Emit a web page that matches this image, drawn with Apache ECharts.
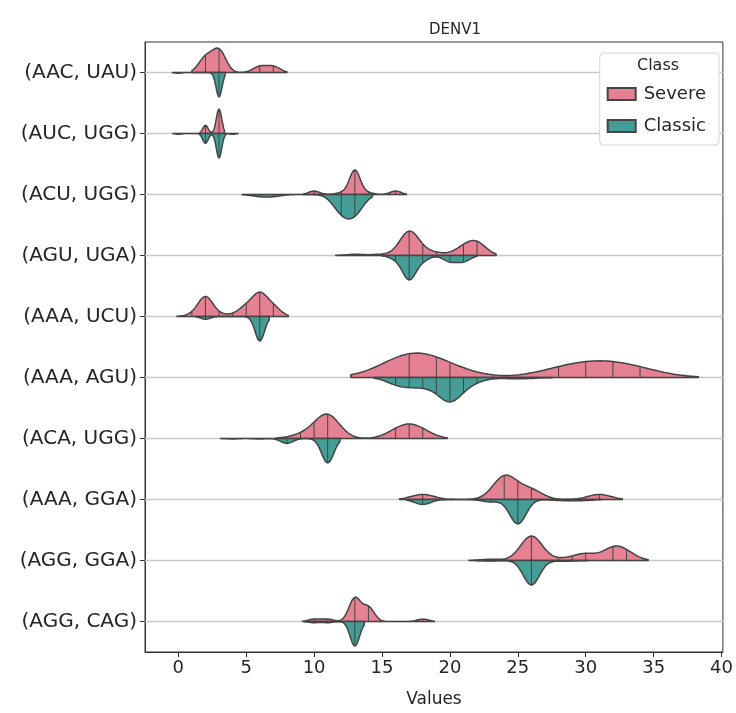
<!DOCTYPE html>
<html><head><meta charset="utf-8">
<script src="https://cdn.jsdelivr.net/npm/echarts@6/dist/echarts.min.js"></script>
<style>html,body{margin:0;padding:0;background:#fff}#c{width:736px;height:713px}</style>
</head><body><div id="c"></div>
<script>
const categories = ['(AAC, UAU)','(AUC, UGG)','(ACU, UGG)','(AGU, UGA)','(AAA, UCU)','(AAA, AGU)','(ACA, UGG)','(AAA, GGA)','(AGG, GGA)','(AGG, CAG)'];
const xTicks = [0,5,10,15,20,25,30,35,40];
const classNames = ['Severe','Classic'];

// observed values (x) and how many observations sit at each, per category
const severeValues = [
  [2,3,6,7],
  [2,3],
  [10,12,13,14,16],
  [13,15,17,18,19,21,22],
  [1,2,3,4,5,6,7],
  [17,19,20,28,30,32,34],
  [9,10,11,16,17,18],
  [18,24,25,26,31],
  [23,26,28,29,30,32,33],
  [10,11,13,14,18]
];
const severeCounts = [
  [10,15,4,4],
  [10,30],
  [2,1,14,1,2],
  [1,1,20,2,2,6,10],
  [1,13,1,1,6,14,6],
  [16,4,3,4,6,6,4],
  [5,5,40,9,16,9],
  [3,13,2,5,3],
  [2,40,2,2,10,18,10],
  [1,1,10,6,1]
];
const severeBandwidth = [0.5,0.2,0.4,0.7,0.55,2.15,0.9,0.85,0.8,0.43];

const classicValues = [
  [0,3],
  [0,2,3,4],
  [6,7,12,13],
  [16,17,18,20,21],
  [2,6],
  [16,17,18,19,20,21,22,24,25,26],
  [4,6,8,11],
  [18,23,25,28,29,30],
  [23,26,28,29],
  [10,11,13]
];
const classicCounts = [
  [1,30],
  [1,12,30,1],
  [1,1,9,10],
  [2,16,3,4,4],
  [1,9],
  [8,8,8,8,30,8,4,1,1,1],
  [1,1,10,50],
  [6,3,30,1,1,1],
  [1,50,1,1],
  [1,1,20]
];
const classicBandwidth = [0.22,0.2,0.65,0.5,0.35,0.8,0.45,0.6,0.6,0.35];

const severeColor = '#e68193';
const classicColor = '#449e97';
const edgeColor = '#444444';

function kde(values, counts, bw) {
  const lo = Math.min(...values) - 2 * bw;
  const hi = Math.max(...values) + 2 * bw;
  const dens = x => {
    let d = 0;
    for (let j = 0; j < values.length; j++) {
      const z = (x - values[j]) / bw;
      d += counts[j] * Math.exp(-0.5 * z * z);
    }
    return d;
  };
  const xs = [], ds = [];
  const n = 100;
  for (let k = 0; k < n; k++) {
    const x = lo + (hi - lo) * k / (n - 1);
    xs.push(x); ds.push(dens(x));
  }
  const mx = Math.max(...ds);
  return { xs, ds: ds.map(d => d / mx), sticks: values.map(v => [v, dens(v) / mx]) };
}

const severeKde = categories.map((_, i) => kde(severeValues[i], severeCounts[i], severeBandwidth[i]));
const classicKde = categories.map((_, i) => kde(classicValues[i], classicCounts[i], classicBandwidth[i]));

function makeRender(kdes, dir, color) {
  return function (params, api) {
    const i = params.dataIndex;
    const k = kdes[i];
    const center = api.coord([0, i])[1];
    const half = api.size([0, 1])[1] * 0.4;
    const pts = [];
    pts.push([api.coord([k.xs[0], i])[0], center]);
    for (let j = 0; j < k.xs.length; j++) {
      pts.push([api.coord([k.xs[j], i])[0], center - dir * k.ds[j] * half]);
    }
    pts.push([api.coord([k.xs[k.xs.length - 1], i])[0], center]);
    const children = [{
      type: 'polygon',
      shape: { points: pts },
      style: { fill: color, stroke: edgeColor, lineWidth: 1.5, lineJoin: 'round' }
    }];
    k.sticks.forEach(s => {
      const px = api.coord([s[0], i])[0];
      children.push({
        type: 'line',
        shape: { x1: px, y1: center, x2: px, y2: center - dir * s[1] * half },
        style: { stroke: edgeColor, lineWidth: 1 }
      });
    });
    return { type: 'group', children };
  };
}

const rowData = categories.map((_, i) => [0, i]);
const chart = echarts.init(document.getElementById('c'), null, { renderer: 'canvas' });
const font = 'DejaVu Sans';
chart.setOption({
  animation: false,
  backgroundColor: '#ffffff',
  textStyle: { fontFamily: font },
  title: {
    text: 'DENV1', left: 450, top: 18, textAlign: 'center',
    textStyle: { fontSize: 15, fontWeight: 'normal', color: '#262626', fontFamily: font }
  },
  grid: { left: 145, right: 12, top: 42, bottom: 60, show: true, borderColor: '#333', borderWidth: 1, backgroundColor: 'transparent' },
  xAxis: {
    type: 'value', min: -2.45, max: 40.1,
    name: 'Values', nameLocation: 'middle', nameGap: 39,
    nameTextStyle: { fontSize: 17, color: '#262626', fontFamily: font },
    axisLine: { show: true, onZero: false, lineStyle: { color: '#333' } },
    axisTick: { show: true, customValues: xTicks, length: 5, lineStyle: { color: '#333' } },
    axisLabel: { customValues: xTicks, fontSize: 18, color: '#262626', margin: 7, fontFamily: font },
    splitLine: { show: false }
  },
  yAxis: {
    type: 'category', data: categories, inverse: true,
    axisLine: { show: true, onZero: false, lineStyle: { color: '#333' } },
    axisTick: { show: true, alignWithLabel: true, length: 5, lineStyle: { color: '#333' } },
    axisLabel: { fontSize: 20, color: '#262626', margin: 8, fontFamily: font },
    splitLine: { show: false }
  },
  legend: {
    data: classNames, orient: 'vertical', right: 17, top: 53,
    padding: [32, 13, 10, 7], itemWidth: 28, itemHeight: 12, itemGap: 14, icon: 'rect',
    backgroundColor: '#ffffff', borderColor: '#d5d5d5', borderWidth: 1, borderRadius: 4,
    selectedMode: false,
    textStyle: { fontSize: 18, color: '#262626', fontFamily: font, padding: [0, 0, 0, 3] }
  },
  graphic: [{
    type: 'text', x: 658, y: 66, z: 100,
    style: { text: 'Class', fontSize: 16, fill: '#262626', fontFamily: font, textAlign: 'center', textVerticalAlign: 'middle' }
  }],
  series: [
    {
      name: 'rows', type: 'custom', data: rowData, encode: { x: 0, y: 1 }, z: 1, silent: true,
      renderItem: function (params, api) {
        const cs = params.coordSys;
        const y = api.coord([0, params.dataIndex])[1];
        return { type: 'line', shape: { x1: cs.x, y1: y, x2: cs.x + cs.width, y2: y }, style: { stroke: '#c8c8c8', lineWidth: 1.3 } };
      }
    },
    {
      name: 'Severe', type: 'custom', data: rowData, encode: { x: 0, y: 1 }, z: 2,
      itemStyle: { color: severeColor, borderColor: edgeColor, borderWidth: 1 },
      renderItem: makeRender(severeKde, 1, severeColor)
    },
    {
      name: 'Classic', type: 'custom', data: rowData, encode: { x: 0, y: 1 }, z: 2,
      itemStyle: { color: classicColor, borderColor: edgeColor, borderWidth: 1 },
      renderItem: makeRender(classicKde, -1, classicColor)
    }
  ]
});
</script>
</body></html>
